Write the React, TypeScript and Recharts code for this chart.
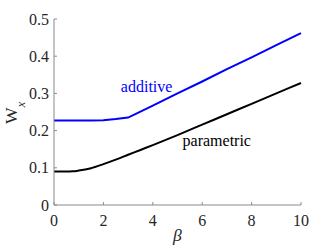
import { LineChart, Line, XAxis, YAxis, ReferenceDot } from "recharts";

const beta = [0, 0.5, 0.75, 1, 1.5, 2, 2.5, 3, 3.5, 4, 5, 6, 7, 8, 9, 10];
const additive = [0.227, 0.227, 0.227, 0.227, 0.227, 0.228, 0.231, 0.235, 0.251, 0.267, 0.3, 0.332, 0.365, 0.397, 0.43, 0.462];
const parametric = [0.09, 0.09, 0.0905, 0.0925, 0.099, 0.11, 0.122, 0.135, 0.148, 0.161, 0.188, 0.216, 0.244, 0.272, 0.3, 0.328];

const xTicks = [0, 2, 4, 6, 8, 10];
const yTicks = [0, 0.1, 0.2, 0.3, 0.4, 0.5];

const data = beta.map((b, i) => ({ beta: b, additive: additive[i], parametric: parametric[i] }));

const FONT = "Liberation Serif";
const AXIS = "#8a8a8a";
const TEXT = "#262626";

type Box = { x?: number; y?: number; width?: number; height?: number };

function YLabel({ viewBox }: { viewBox?: Box }) {
  const vb = viewBox ?? {};
  const cx = 16.5;
  const cy = (vb.y ?? 0) + (vb.height ?? 0) / 2 + 1;
  return (
    <text x={cx} y={cy} transform={`rotate(-90 ${cx} ${cy})`} textAnchor="middle" style={{ fontFamily: FONT }} fontSize={17.6} fill={TEXT}>
      <tspan>W</tspan>
      <tspan fontSize={12} dy={8} fontStyle="italic">x</tspan>
    </text>
  );
}

function XLabel({ viewBox }: { viewBox?: Box }) {
  const vb = viewBox ?? {};
  return (
    <text x={(vb.x ?? 0) + (vb.width ?? 0) / 2} y={(vb.y ?? 0) + 36} textAnchor="middle" style={{ fontFamily: FONT }} fontSize={17.6} fontStyle="italic" fill={TEXT}>
      β
    </text>
  );
}

const noTick = () => <g />;

export default function App() {
  return (
    <div style={{ position: "absolute", left: 0, top: 0, background: "#fff", fontFamily: FONT }}>
      <LineChart width={332} height={249} data={data} margin={{ top: 19, right: 31, bottom: 0, left: 0 }} style={{ fontFamily: FONT }}>
        <XAxis
          dataKey="beta"
          type="number"
          domain={[0, 10]}
          ticks={xTicks}
          interval={0}
          height={44}
          tickSize={-3}
          tickMargin={13}
          axisLine={{ stroke: AXIS }}
          tickLine={{ stroke: AXIS }}
          tick={{ fill: TEXT, fontSize: 16, style: { fontFamily: FONT } }}
          label={<XLabel />}
        />
        <XAxis
          xAxisId="top"
          orientation="top"
          type="number"
          domain={[0, 10]}
          ticks={xTicks}
          interval={0}
          height={0}
          tickSize={-3}
          axisLine={{ stroke: AXIS }}
          tickLine={{ stroke: AXIS }}
          tick={noTick}
        />
        <YAxis
          type="number"
          domain={[0, 0.5]}
          ticks={yTicks}
          interval={0}
          width={54}
          tickSize={-3}
          tickMargin={8}
          axisLine={{ stroke: AXIS }}
          tickLine={{ stroke: AXIS }}
          tick={{ fill: TEXT, fontSize: 16, style: { fontFamily: FONT } }}
          label={<YLabel />}
        />
        <YAxis
          yAxisId="right"
          orientation="right"
          type="number"
          domain={[0, 0.5]}
          ticks={yTicks}
          interval={0}
          width={0}
          tickSize={-3}
          axisLine={{ stroke: AXIS }}
          tickLine={{ stroke: AXIS }}
          tick={noTick}
        />
        <Line dataKey="additive" type="linear" stroke="#0000ff" strokeWidth={2} dot={false} isAnimationActive={false} />
        <Line dataKey="parametric" type="monotone" stroke="#000000" strokeWidth={2} dot={false} isAnimationActive={false} />
        <ReferenceDot x={3.75} y={0.318} r={0} stroke="none" label={{ value: "additive", position: "center", fill: "#0000ff", fontSize: 16, style: { fontFamily: FONT } }} />
        <ReferenceDot x={6.59} y={0.173} r={0} stroke="none" label={{ value: "parametric", position: "center", fill: "#000000", fontSize: 16, style: { fontFamily: FONT } }} />
      </LineChart>
    </div>
  );
}
